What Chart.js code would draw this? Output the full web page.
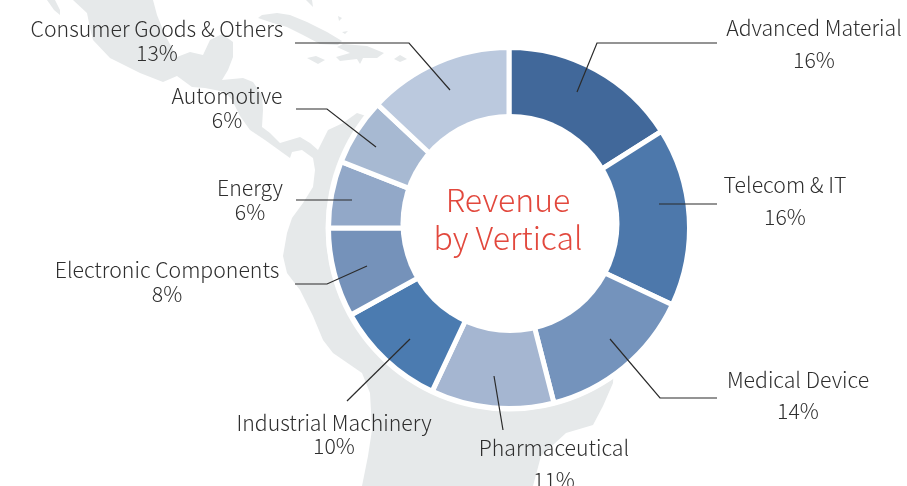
<!DOCTYPE html>
<html><head><meta charset="utf-8">
<style>html,body{margin:0;padding:0;background:#fff;overflow:hidden}canvas{display:block}</style>
<script src="https://cdn.jsdelivr.net/npm/chart.js@4"></script></head>
<body><div style="width:907px;height:486px;position:relative"><canvas id="c" width="907" height="486"></canvas></div>
<script>
const categories = ["Advanced Material","Telecom & IT","Medical Device","Pharmaceutical","Industrial Machinery","Electronic Components","Energy","Automotive","Consumer Goods & Others"];
const shares = [16,16,14,11,10,8,6,6,13];
const sliceColors = ["#41689a","#4d78ab","#7493bc","#a5b6d1","#4b7bb0","#7592ba","#92a8c8","#a7b9d2","#bbc9de"];
const centerTitle = ["Revenue","by Vertical"];

const labelAnchors = [[814,28,60],[785,185,217],[798,380,411],[554,448,480],[334,423,446],[167,270,294],[250,188,212],[227,96,120],[157,29,53]];
const leaders = [
 [[577,92],[597,43],[717,43]],
 [[659,204],[717,204]],
 [[610,339],[660,398],[717,398]],
 [[494,376],[503,430]],
 [[410,339],[347,401]],
 [[367,266],[327,284],[295,284]],
 [[352,200],[296,200]],
 [[376,147],[327,109],[296,109]],
 [[450,90],[409,43],[295,43]]
];
const landShapes = [
 "M73,0 L87,13 L90,28 L93,40 L110,58 L140,73 L163,82 L177,76 L192,87 L205,88 L225,92 L232,100 L240,116 L250,130 L265,140 L283,153 L290,158 L292,152 L302,150 L313,158 L315,170 L313,187 L303,203 L292,218 L287,233 L283,256 L287,273 L300,290 L313,316 L323,340 L333,353 L362,373 L370,393 L372,430 L368,456 L362,486 L533,486 L541,456 L566,433 L593,425 L603,406 L613,383 L615,340 L500,230 L400,130 L363,115 L357,113 L343,123 L328,130 L318,150 L310,143 L300,137 L290,140 L280,143 L270,133 L262,127 L263,110 L262,95 L253,82 L243,78 L222,80 L228,70 L233,57 L233,42 L222,34 L210,40 L203,55 L190,52 L177,57 L165,35 L157,15 L153,0 Z",
 "M47,0 L55,0 L60,10 L60,15 L54,10 Z",
 "M258,18 L262,15 L277,13 L290,15 L307,22 L327,32 L342,41 L338,45 L320,44 L303,35 L287,27 L273,23 Z",
 "M337,47 L343,44 L367,46 L384,53 L377,58 L363,58 L360,64 L357,59 L340,61 L336,57 L350,53 Z",
 "M307,58 L316,56 L325,60 L318,64 Z",
 "M394,59 L400,55 L407,59 L400,62 Z",
 "M306,0 L312,0 L313,7 Z","M338,16 L342,18 L339,21 Z","M342,32 L348,31 L345,34 Z"
];

const backdrop = {
 id:"backdrop",
 beforeDraw(chart){
  const c = chart.ctx;
  c.save();
  c.fillStyle = "#fff"; c.fillRect(0,0,chart.width,chart.height);
  c.fillStyle = "#e6e9ea";
  landShapes.forEach(s=>c.fill(new Path2D(s)));
  const arc = chart.getDatasetMeta(0).data[0];
  c.fillStyle="#fff"; c.beginPath(); c.arc(arc.x,arc.y,arc.outerRadius+3,0,Math.PI*2); c.fill();
  c.restore();
 }
};
const annotate = {
 id:"annotate",
 afterDatasetsDraw(chart){
  const c = chart.ctx, arc = chart.getDatasetMeta(0).data[0];
  c.save();
  c.fillStyle="#fff"; c.beginPath(); c.arc(arc.x+1,arc.y-4.5,109.5,0,Math.PI*2); c.fill();
  c.restore();
 },
 afterDraw(chart){
  const c = chart.ctx, arc = chart.getDatasetMeta(0).data[0];
  c.save();
  c.strokeStyle="#2b2b2b"; c.lineWidth=1.2;
  leaders.forEach(p=>{c.beginPath();p.forEach((q,i)=>i?c.lineTo(q[0],q[1]):c.moveTo(q[0],q[1]));c.stroke();});
  c.textAlign="center"; c.textBaseline="middle"; c.fillStyle="#2e2e2e";
  c.font='300 21.25px "Noto Sans CJK JP"';
  categories.forEach((t,i)=>{
   const a=labelAnchors[i];
   c.fillText(t,a[0],a[1]);
   c.fillText(shares[i]+"%",a[0],a[2]);
  });
  c.fillStyle="#e2483d"; c.font='300 32px "Noto Sans CJK JP"';
  c.fillText(centerTitle[0],arc.x-1,arc.y-28);
  c.fillText(centerTitle[1],arc.x-1,arc.y+10);
  c.restore();
 }
};
new Chart(document.getElementById("c"),{
 type:"doughnut",
 data:{labels:categories,datasets:[{data:shares,backgroundColor:sliceColors,borderColor:"#fff",borderWidth:5,hoverOffset:0}]},
 options:{
  responsive:false,animation:false,cutout:100,
  layout:{padding:{left:326,right:215,top:45,bottom:75}},
  plugins:{legend:{display:false},tooltip:{enabled:false}}
 },
 plugins:[backdrop,annotate]
});
</script></body></html>
